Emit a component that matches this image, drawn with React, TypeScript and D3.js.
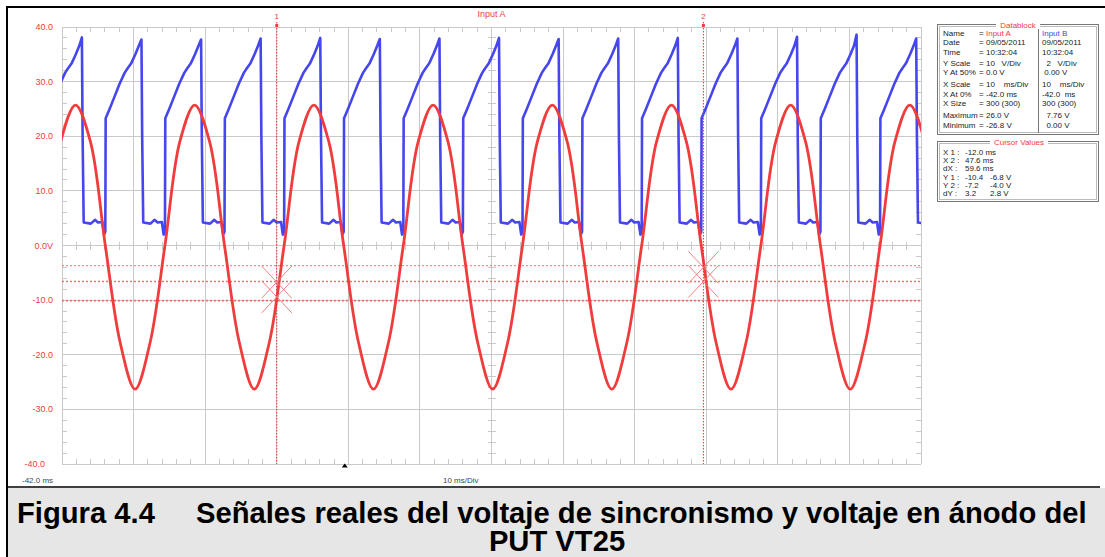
import React, { useEffect } from 'react';
import * as d3 from 'd3';

const W = 1105;
const H = 557;

// scope screen, data units
const X_DOMAIN = [-42, 78]; // ms
const Y_DOMAIN = [-40, 40]; // V (Input A scale)

const yTickValues = [40, 30, 20, 10, 0, -10, -20, -30, -40];
const yTickLabels = ['40.0', '30.0', '20.0', '10.0', '0.0V', '-10.0', '-20.0', '-30.0', '-40.0'];

// Input A (red) - sync voltage, [ms, V]
const inputA: [number, number][] = [
  [-44.27, 0], [-42.19, 19.0], [-40.11, 25.7], [-38.03, 19.0], [-35.95, 0], [-33.87, -17.8], [-31.79, -26.3], [-29.7, -17.8],
  [-27.62, 0], [-25.54, 19.0], [-23.46, 25.7], [-21.38, 19.0], [-19.3, 0], [-17.22, -17.8], [-15.14, -26.3], [-13.05, -17.8],
  [-10.97, 0], [-8.89, 19.0], [-6.81, 25.7], [-4.73, 19.0], [-2.65, 0], [-0.57, -17.8], [1.51, -26.3], [3.6, -17.8],
  [5.68, 0], [7.76, 19.0], [9.84, 25.7], [11.92, 19.0], [14.0, 0], [16.08, -17.8], [18.16, -26.3], [20.25, -17.8],
  [22.33, 0], [24.41, 19.0], [26.49, 25.7], [28.57, 19.0], [30.65, 0], [32.73, -17.8], [34.81, -26.3], [36.9, -17.8],
  [38.98, 0], [41.06, 19.0], [43.14, 25.7], [45.22, 19.0], [47.3, 0], [49.38, -17.8], [51.46, -26.3], [53.55, -17.8],
  [55.63, 0], [57.71, 19.0], [59.79, 25.7], [61.87, 19.0], [63.95, 0], [66.03, -17.8], [68.11, -26.3], [70.2, -17.8],
  [72.28, 0], [74.36, 19.0], [76.44, 25.7], [78.52, 19.0], [80.6, 0],
];

// Input B (blue) - anode voltage, drawn on the A scale. One ramp per half cycle.
const inputBRiseTimes = [-44.27, -35.95, -27.62, -19.3, -10.97, -2.65, 5.68, 14.0, 22.33, 30.65, 38.98, 47.3, 55.63, 63.95, 72.28];
const inputBPeaks = [38.1, 37.7, 37.7, 37.9, 38.0, 37.8, 37.9, 38.0, 37.8, 37.9, 38.0, 37.9, 38.2, 38.6, 37.9];
const inputBShapeOffsets = [0, 0.05, 0.6, 1.3, 2.0, 2.7, 3.1, 3.6, 4.2, 4.7, 5.05, 5.15, 5.3, 6.3, 6.9, 7.3, 7.9, 8.15];
const inputBShapeValues = [2.5, 23.3, 25.0, 27.3, 29.6, 31.6, 32.4, 33.3, 35.0, 36.6, 0, 20.0, 4.2, 4.0, 4.7, 4.2, 4.3, 2.0];
const PEAK_IDX = 10;

// cursors
const cursorTimes = [-12.0, 47.6];
const cursorNames = ['1', '2'];
const cursorLevels = [-3.7, -6.6, -10.1];
const cursorCrossLevels = [[-6.7, -9.4], [-4.0, -6.6]];
const triggerTime = -2.5;

// datablock
const dbLabels = ['Name', 'Date', 'Time', 'Y Scale', 'Y At 50%', 'X Scale', 'X At 0%', 'X Size', 'Maximum', 'Minimum'];
const dbA = ['Input A', '09/05/2011', '10:32:04', '10   V/Div', '0.0 V', '10    ms/Div', '-42.0 ms', '300 (300)', '26.0 V', '-26.8 V'];
const dbB = ['Input B', '09/05/2011', '10:32:04', '  2   V/Div', ' 0.00 V', '10    ms/Div', '-42.0  ms', '300 (300)', '  7.76 V', '  0.00 V'];
const dbRowY = [36, 45, 55, 66, 75, 87, 97, 106, 118, 128];

const cvLabels = ['X 1 :', 'X 2 :', 'dX :', 'Y 1 :', 'Y 2 :', 'dY :'];
const cvA = ['-12.0 ms', '47.6 ms', '59.6 ms', '-10.4', '-7.2', '3.2'];
const cvB = ['', '', '', '-6.8 V', '-4.0 V', '2.8 V'];
const cvRowY = [155, 163, 171, 180, 188, 196];

const RED = '#f03c3c';
const BLUE = '#4646ee';
const GRID = '#c9c9c9';
const SCOPE_FONT = '"Liberation Sans", Arial, sans-serif';

export default function App() {
  useEffect(() => {
    document.body.style.margin = '0';
  }, []);

  const left = 62, right = 921, top = 27, bottom = 464;
  const x = d3.scaleLinear().domain(X_DOMAIN).range([left, right]);
  const y = d3.scaleLinear().domain(Y_DOMAIN).range([bottom, top]);

  const majorX = d3.range(X_DOMAIN[0], X_DOMAIN[1] + 0.01, 10);
  const majorY = d3.range(Y_DOMAIN[0], Y_DOMAIN[1] + 0.01, 10);
  const minorX = d3.range(X_DOMAIN[0], X_DOMAIN[1] + 0.01, 2);
  const minorY = d3.range(Y_DOMAIN[0], Y_DOMAIN[1] + 0.01, 2);
  const centerT = (X_DOMAIN[0] + X_DOMAIN[1]) / 2;

  const inputB: [number, number][] = [];
  inputBRiseTimes.forEach((r, i) => {
    inputBShapeOffsets.forEach((o, j) => {
      inputB.push([r + o, j === PEAK_IDX ? inputBPeaks[i] : inputBShapeValues[j]]);
    });
  });

  const lineB = d3.line<[number, number]>()
    .x(d => x(d[0]))
    .y(d => y(d[1]));
  const lineA = d3.line<[number, number]>()
    .x(d => x(d[0]))
    .y(d => y(d[1]))
    .curve(d3.curveCatmullRom.alpha(0.5));

  return (
    <svg width={W} height={H} style={{ position: 'absolute', left: 0, top: 0, background: '#fff' }}>
      <defs>
        <clipPath id="plot">
          <rect x={left} y={top} width={right - left} height={bottom - top} />
        </clipPath>
      </defs>

      {/* page frame */}
      <rect x={0} y={0} width={W} height={H} fill="#fff" />
      <rect x={8} y={488} width={W - 8} height={H - 488} fill="#e6e6e6" />
      <line x1={6} x2={W} y1={7} y2={7} stroke="#000" strokeWidth={2} />
      <line x1={7} x2={7} y1={6} y2={H} stroke="#000" strokeWidth={2} />
      <line x1={7} x2={1100} y1={487} y2={487} stroke="#000" strokeWidth={1.5} />

      {/* grid */}
      <g stroke={GRID} strokeWidth={1} shapeRendering="crispEdges">
        {majorX.map(t => <line key={'gx' + t} x1={x(t)} x2={x(t)} y1={top} y2={bottom} />)}
        {majorY.map(v => <line key={'gy' + v} x1={left} x2={right} y1={y(v)} y2={y(v)} />)}
        {minorX.map(t => (
          <g key={'mx' + t}>
            <line x1={x(t)} x2={x(t)} y1={top} y2={top + 5} />
            <line x1={x(t)} x2={x(t)} y1={bottom - 5} y2={bottom} />
            <line x1={x(t)} x2={x(t)} y1={y(0) - 4} y2={y(0) + 4} />
          </g>
        ))}
        {minorY.map(v => (
          <g key={'my' + v}>
            <line x1={left} x2={left + 5} y1={y(v)} y2={y(v)} />
            <line x1={right - 5} x2={right} y1={y(v)} y2={y(v)} />
            <line x1={x(centerT) - 4} x2={x(centerT) + 4} y1={y(v)} y2={y(v)} />
          </g>
        ))}
      </g>

      {/* y labels */}
      <g fontFamily={SCOPE_FONT} fontSize={9} fill={RED} textAnchor="end">
        {yTickValues.map((v, i) => (
          <text key={'yl' + v} x={v === -40 ? 45 : 53} y={y(v) + 3}>{yTickLabels[i]}</text>
        ))}
      </g>
      <text x={x(centerT)} y={17} fontFamily={SCOPE_FONT} fontSize={9} fill={RED} textAnchor="middle">Input A</text>
      <g fontFamily={SCOPE_FONT} fontSize={8} fill="#444">
        <text x={22} y={483}>-42.0 ms</text>
        <text x={443} y={483}>10 ms/Div</text>
      </g>
      <path
        d={`M${x(triggerTime) - 3},${bottom - 0.5} L${x(triggerTime) + 3},${bottom - 0.5} L${x(triggerTime)},${bottom - 4.5} Z`}
        fill="#000"
        transform="translate(0,4)"
      />

      {/* cursor levels */}
      <g stroke="#f07070" strokeWidth={1} strokeDasharray="2,2">
        {cursorLevels.map(v => (
          <line key={'cl' + v} x1={left} x2={right} y1={y(v)} y2={y(v)} strokeWidth={v === -3.7 ? 1 : 1.6} />
        ))}
      </g>

      {/* traces */}
      <g clipPath="url(#plot)" fill="none" strokeLinejoin="round" strokeLinecap="round">
        <path d={lineB(inputB) || ''} stroke={BLUE} strokeWidth={2.6} />
        <path d={lineA(inputA) || ''} stroke={RED} strokeWidth={2.8} />
      </g>

      {/* cursors */}
      {cursorTimes.map((t, i) => (
        <g key={'cur' + i}>
          <line x1={x(t)} x2={x(t)} y1={22} y2={bottom} stroke="#e03030" strokeWidth={1} strokeDasharray="1.5,1.5" />
          <text x={x(t)} y={19} fontFamily={SCOPE_FONT} fontSize={8} fill={RED} textAnchor="middle">{cursorNames[i]}</text>
          <rect x={x(t) - 1.5} y={top - 3} width={3} height={3} fill={RED} />
          {cursorCrossLevels[i].map(v => (
            <g key={'cx' + v} stroke="#f08080" strokeWidth={1}>
              <line x1={x(t) - 15} x2={x(t) + 15} y1={y(v) - 16} y2={y(v) + 16} />
              <line x1={x(t) - 15} x2={x(t) + 15} y1={y(v) + 16} y2={y(v) - 16} />
            </g>
          ))}
        </g>
      ))}

      {/* datablock */}
      <g fontFamily={SCOPE_FONT} fontSize={8} fill="#222">
        <rect x={937.5} y={24.5} width={161} height={110} fill="#fff" stroke="#777" />
        <rect x={939.5} y={26.5} width={157} height={106} fill="none" stroke="#bbb" />
        <line x1={1038.5} x2={1038.5} y1={29} y2={133} stroke="#777" />
        <rect x={996} y={20} width={44} height={9} fill="#fff" />
        <text x={1018} y={28} fill={RED} textAnchor="middle">Datablock</text>
        {dbLabels.map((l, i) => (
          <g key={'db' + i}>
            <text x={943} y={dbRowY[i]}>{l}</text>
            <text x={979} y={dbRowY[i]}>=</text>
            <text x={986} y={dbRowY[i]} fill={i === 0 ? RED : '#222'} style={{ whiteSpace: 'pre' }}>{dbA[i]}</text>
            <text x={1042} y={dbRowY[i]} fill={i === 0 ? BLUE : '#222'} style={{ whiteSpace: 'pre' }}>{dbB[i]}</text>
          </g>
        ))}

        <rect x={937.5} y={141.5} width={161} height={60} fill="#fff" stroke="#777" />
        <rect x={939.5} y={143.5} width={157} height={56} fill="none" stroke="#bbb" />
        <rect x={990} y={137} width={58} height={9} fill="#fff" />
        <text x={1019} y={145} fill={RED} textAnchor="middle">Cursor Values</text>
        {cvLabels.map((l, i) => (
          <g key={'cv' + i}>
            <text x={943} y={cvRowY[i]}>{l}</text>
            <text x={965} y={cvRowY[i]}>{cvA[i]}</text>
            <text x={990} y={cvRowY[i]}>{cvB[i]}</text>
          </g>
        ))}
      </g>

      {/* caption */}
      <g fontFamily='"Liberation Sans", Arial, sans-serif' fontWeight="bold" fontSize={29.2} fill="#000">
        <text x={17} y={523}>Figura 4.4</text>
        <text x={196} y={523}>Señales reales del voltaje de sincronismo y voltaje en ánodo del</text>
        <text x={557} y={551} textAnchor="middle">PUT VT25</text>
      </g>
    </svg>
  );
}
